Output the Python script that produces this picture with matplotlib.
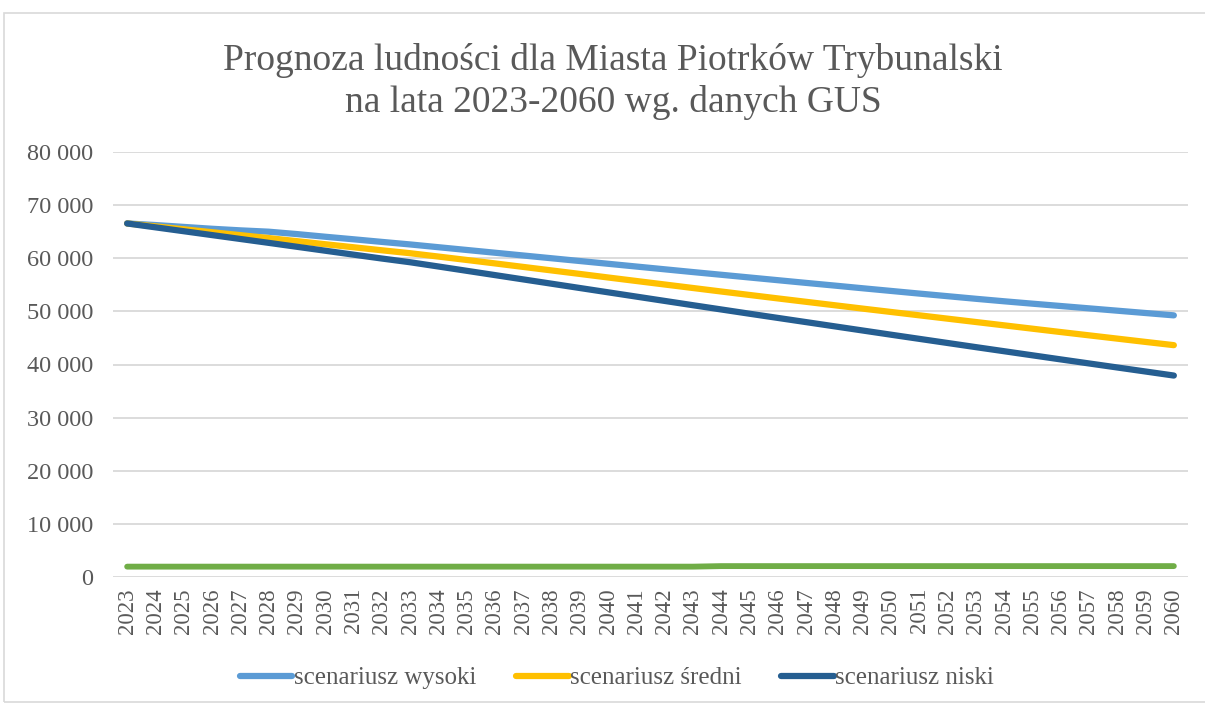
import numpy as np
import matplotlib.pyplot as plt
from matplotlib.patches import Rectangle

years = list(range(2023, 2061))

wysoki = [66550, 66250, 65900, 65550, 65250, 65000, 64550, 64050, 63570, 63080,
          62600, 62080, 61560, 61040, 60520, 60000, 59480, 58960, 58440, 57920,
          57400, 56890, 56380, 55870, 55360, 54860, 54350, 53850, 53350, 52860,
          52370, 51900, 51450, 51010, 50570, 50130, 49690, 49250]
sredni = [66550, 66000, 65450, 64900, 64350, 63800, 63220, 62640, 62070, 61500,
          60950, 60320, 59680, 59030, 58370, 57710, 57050, 56380, 55720, 55060,
          54400, 53740, 53090, 52440, 51800, 51160, 50520, 49890, 49260, 48630,
          48000, 47370, 46740, 46110, 45490, 44870, 44250, 43640]
niski = [66550, 65820, 65090, 64360, 63630, 62900, 62160, 61420, 60680, 59950,
         59250, 58450, 57640, 56830, 56020, 55210, 54400, 53590, 52780, 51970,
         51160, 50360, 49560, 48770, 47980, 47190, 46400, 45610, 44830, 44050,
         43270, 42500, 41730, 40960, 40200, 39440, 38680, 37920]
inne = [1950] * 21 + [2050] * 17

labels = ["scenariusz wysoki", "scenariusz średni", "scenariusz niski"]
yticks = list(range(0, 80001, 10000))

text_col = "#595959"
grid_col = "#d9d9d9"
plt.rcParams['font.family'] = ['Liberation Serif', 'DejaVu Serif']

fig = plt.figure(figsize=(12.05, 7.06), dpi=100)
ax = fig.add_axes([113 / 1205, 1 - 577 / 706, (1188 - 113) / 1205, (577 - 152) / 706])

x = np.arange(len(years))
ax.plot(x, inne, color="#70AD47", lw=4.2, solid_capstyle="round")
ax.plot(x, wysoki, color="#5B9BD5", lw=4.5, solid_capstyle="round", label=labels[0])
ax.plot(x, sredni, color="#FFC000", lw=4.5, solid_capstyle="round", label=labels[1])
ax.plot(x, niski, color="#255E91", lw=4.5, solid_capstyle="round", label=labels[2])

ax.set_xlim(-0.5, len(years) - 0.5)
ax.set_ylim(0, 80000)
ax.set_yticks(yticks)
ax.set_yticklabels([f"{v:,}".replace(",", " ") for v in yticks])
ax.set_xticks(x)
ax.set_xticklabels([str(y) for y in years], rotation=90)
ax.tick_params(length=0, colors=text_col)
ax.tick_params(axis="y", pad=14, labelsize=17.5)
ax.tick_params(axis="x", pad=8, labelsize=16.5)
ax.grid(axis="y", color=grid_col, lw=1.3)
ax.set_axisbelow(True)
for s in ax.spines.values():
    s.set_visible(False)

fig.text(613 / 1205, 1 - 60 / 706, "Prognoza ludności dla Miasta Piotrków Trybunalski",
         ha="center", va="center", fontsize=27, color=text_col)
fig.text(613 / 1205, 1 - 103 / 706, "na lata 2023-2060 wg. danych GUS",
         ha="center", va="center", fontsize=27, color=text_col)

leg = fig.legend(loc="center", bbox_to_anchor=(617 / 1205, 1 - 678 / 706), ncol=3,
                 frameon=False, fontsize=18, handlelength=2.1, handletextpad=0.05,
                 columnspacing=1.6, labelcolor=text_col)
for h in leg.get_lines():
    h.set_linewidth(4.5)

fig.patches.append(Rectangle((4 / 1205, 0.005), 1.2, 1 - 13 / 706 - 0.005,
                             transform=fig.transFigure, fill=False,
                             edgecolor=grid_col, lw=1.2))

fig.savefig("out.png", dpi=100)
